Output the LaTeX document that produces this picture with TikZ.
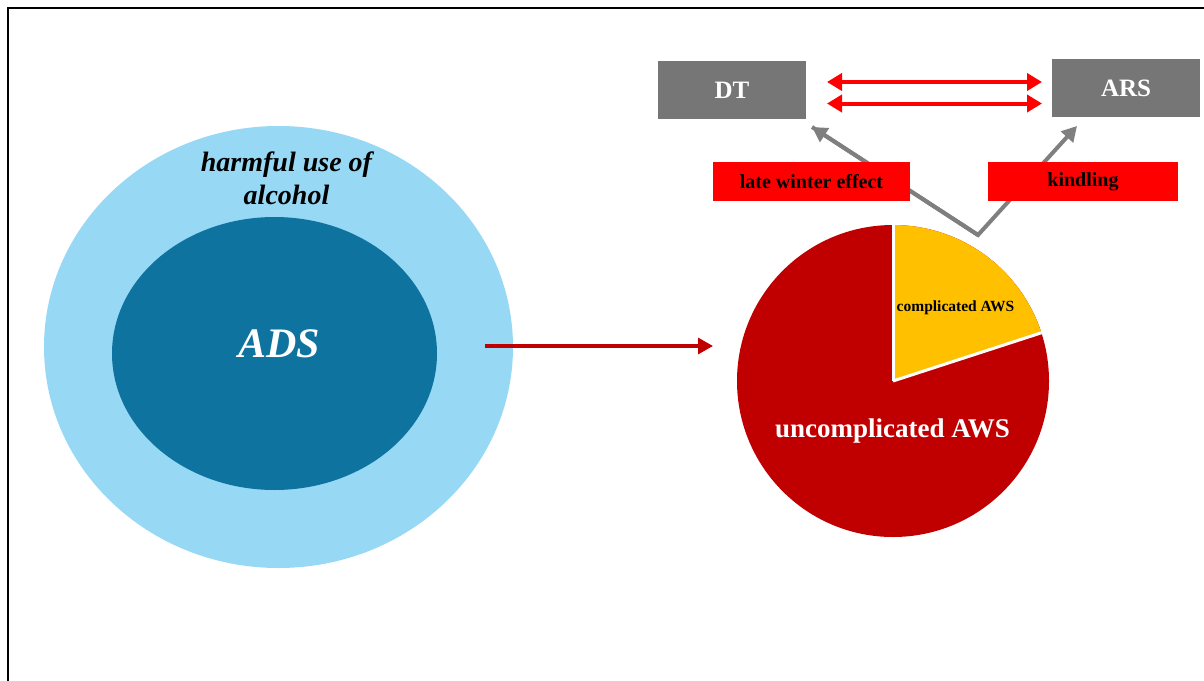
\documentclass[tikz,border=0pt]{standalone}
\usepackage{fontspec}
\setmainfont{Liberation Serif}
\usetikzlibrary{shapes.geometric,arrows.meta}
\definecolor{ringblue}{RGB}{151,217,245}
\definecolor{adsblue}{RGB}{14,116,159}
\definecolor{piered}{RGB}{192,0,0}
\definecolor{pieyellow}{RGB}{255,192,0}
\definecolor{boxgray}{RGB}{118,118,118}
\definecolor{arrowgray}{RGB}{127,127,127}
\definecolor{brightred}{RGB}{255,0,0}
\begin{document}
\begin{tikzpicture}[x=1pt,y=-1pt,
  graybox/.style={fill=boxgray, text=white, font=\bfseries\fontsize{25}{25}\selectfont, minimum width=148pt, minimum height=58pt, inner sep=0pt},
  redbox/.style={fill=brightred, text=black, font=\bfseries\fontsize{20}{20}\selectfont, minimum height=39pt, inner sep=0pt},
  grayarrow/.style={draw=arrowgray, line width=4pt, -{Triangle[length=15pt,width=16pt]}},
  redarrow/.style={draw=brightred, line width=4pt, {Triangle[length=15pt,width=17pt]}-{Triangle[length=15pt,width=17pt]}}
]
\useasboundingbox (0,0) rectangle (1204,680);
\fill[white] (0,0) rectangle (1204,680);
\draw[line width=2.2pt] (8,681) -- (8,8) -- (1210,8);

% left ellipses
\node[ellipse, fill=ringblue, minimum width=469pt, minimum height=442pt, inner sep=0pt] (outer) at (278.5,347) {};
\node[ellipse, fill=adsblue, minimum width=325pt, minimum height=273pt, inner sep=0pt] (inner) at (274.5,353.5) {};
\node[font=\bfseries\itshape\fontsize{28}{33}\selectfont, align=center] (harm) at (286.5,178) {harmful use of\\alcohol};
\node[font=\bfseries\itshape\fontsize{42}{42}\selectfont, text=white, inner sep=0pt] (ads) at (279,344) {ADS};

% main arrow
\coordinate (mstart) at (485,346);
\coordinate (mend) at (713,346);
\draw[draw=piered, line width=3.3pt, -{Triangle[length=15pt,width=16pt]}] (mstart) -- (mend);

% pie
\coordinate (pc) at (893,381);
\fill[piered] (pc) circle[radius=156];
\fill[pieyellow] (pc) -- +(-90:156) arc[start angle=-90, end angle=-18, radius=156] -- cycle;
\draw[white, line width=3pt] (pc) -- +(-90:157);
\draw[white, line width=3pt] (pc) -- +(-18:157);
\node[font=\bfseries\fontsize{15.5}{15.5}\selectfont, anchor=base, inner sep=0pt] (comp) at (955.5,311.5) {complicated AWS};
\node[font=\bfseries\fontsize{27}{27}\selectfont, text=white, anchor=base, inner sep=0pt] (uncomp) at (892.5,437) {uncomplicated AWS};

% top boxes
\node[graybox] (dt) at (732,90) {DT};
\node[graybox] (ars) at (1126,88) {ARS};

% red double arrows
\coordinate (r1a) at (827,82);
\coordinate (r1b) at (1042,82);
\coordinate (r2a) at (827,103.5);
\coordinate (r2b) at (1042,103.5);
\draw[redarrow] (r1a) -- (r1b);
\draw[redarrow] (r2a) -- (r2b);

% gray arrows
\coordinate (apex) at (978,235);
\coordinate (dtin) at (812,127);
\coordinate (arsin) at (1077,126);
\draw[grayarrow, line join=miter] (dtin) -- (apex) -- (arsin);
\draw[grayarrow] (apex) -- (dtin);

% red boxes
\node[redbox, minimum width=197pt] (late) at (811.5,181.5) {late winter effect};
\node[redbox, minimum width=190pt] (kind) at (1083,181.5) {kindling};
\end{tikzpicture}
\end{document}
